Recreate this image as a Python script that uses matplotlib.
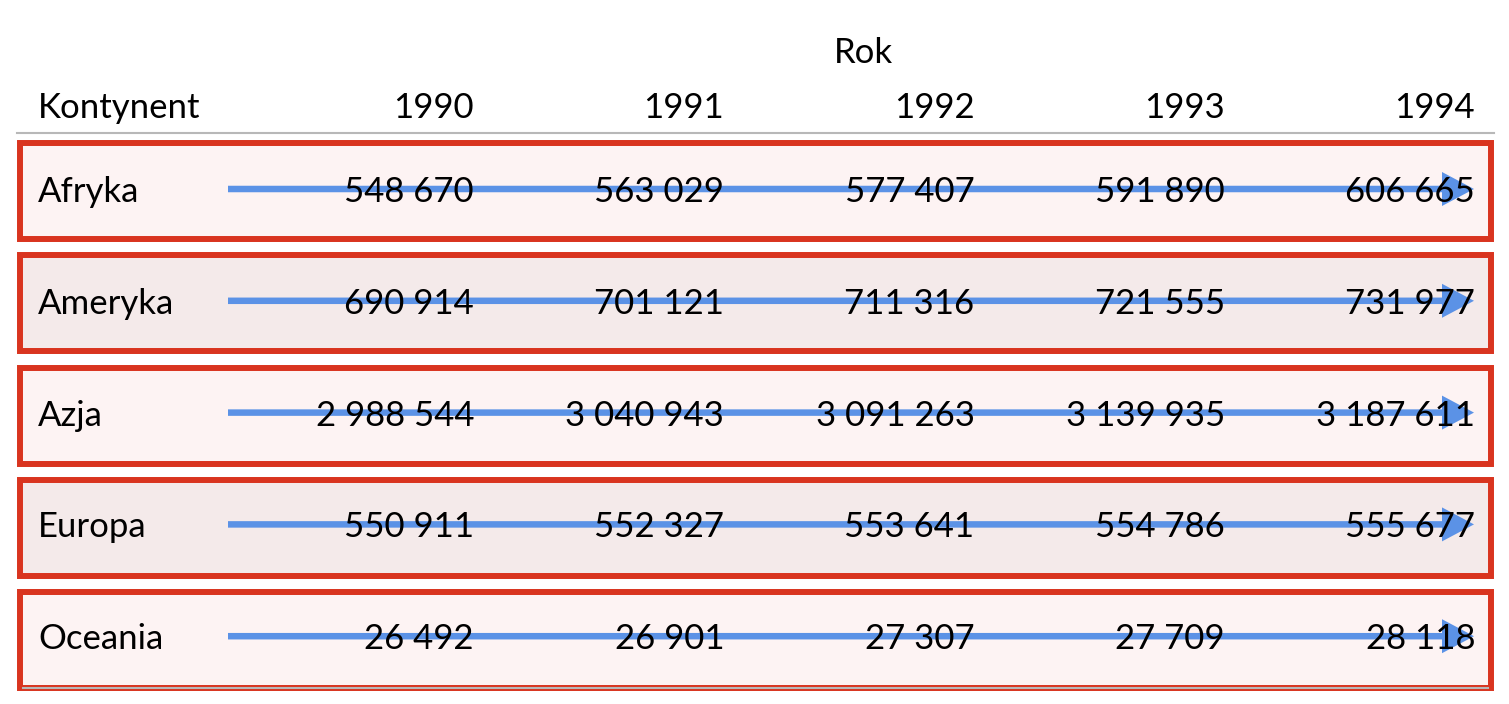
import matplotlib.pyplot as plt
from matplotlib.patches import Rectangle, FancyArrow

plt.rcParams['font.family'] = ['Lato', 'DejaVu Sans']

years = ['1990', '1991', '1992', '1993', '1994']
continents = ['Afryka', 'Ameryka', 'Azja', 'Europa', 'Oceania']
afryka = [548670, 563029, 577407, 591890, 606665]
ameryka = [690914, 701121, 711316, 721555, 731977]
azja = [2988544, 3040943, 3091263, 3139935, 3187611]
europa = [550911, 552327, 553641, 554786, 555677]
oceania = [26492, 26901, 27307, 27709, 28118]
values = [afryka, ameryka, azja, europa, oceania]


def fmt(v):
    return f'{v:,}'.replace(',', ' ')


W, H = 1509, 704
fig = plt.figure(figsize=(W / 100, H / 100), dpi=100)
ax = fig.add_axes([0, 0, 1, 1])
ax.set_xlim(0, W)
ax.set_ylim(H, 0)
ax.axis('off')

fs = 25
red = '#d9341f'
blue = '#5b92e6'
fills = ['#fdf3f3', '#f4eaea']

col_right = [474 + i * 250.25 for i in range(len(years))]

# header
ax.text(863, 63, 'Rok', fontsize=fs, ha='center', va='baseline')
ax.text(38, 118, 'Kontynent', fontsize=fs, ha='left', va='baseline')
for x, y in zip(col_right, years):
    ax.text(x, 118, y, fontsize=fs, ha='right', va='baseline')
ax.plot([17, 1494], [133, 133], color='#b8b8b8', lw=1.5)

# rows
for i, (name, vals) in enumerate(zip(continents, values)):
    top = 140 + i * 112.3
    bottom = top + 102
    ax.add_patch(Rectangle((20, top + 3), 1471, bottom - top - 6,
                           facecolor=fills[i % 2], edgecolor=red, lw=4.3, zorder=1))
    yc = 189 + i * 111.8
    ax.add_patch(FancyArrow(228, yc, 1246, 0, width=6.5, head_width=34, head_length=32,
                            length_includes_head=True, color=blue, lw=0, zorder=2))
    base = yc + 13
    ax.text(38, base, name, fontsize=fs, ha='left', va='baseline', zorder=3)
    for x, v in zip(col_right, vals):
        ax.text(x, base, fmt(v), fontsize=fs, ha='right', va='baseline', zorder=3)

ax.plot([23, 1488], [688, 688], color='#b8b8b8', lw=1.5, zorder=2)

fig.savefig('out.png', dpi=100, facecolor='white')
